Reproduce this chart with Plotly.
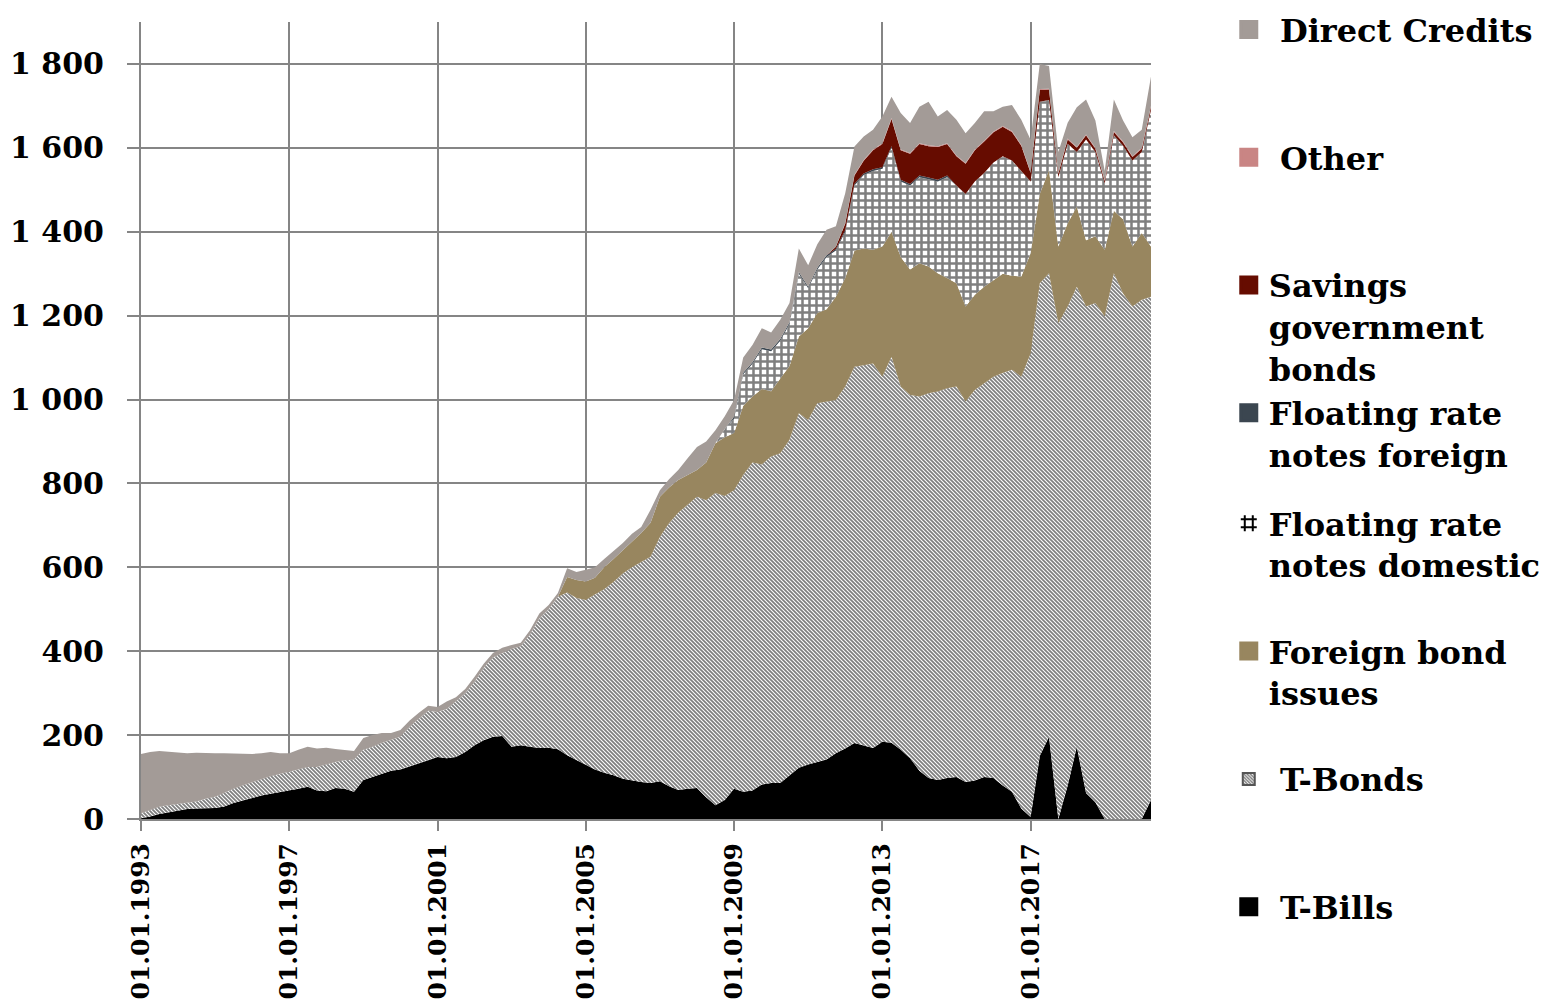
import pandas as pd
import plotly.graph_objects as go

# quarterly observation dates, 1993Q1 .. 2020Q2
dates = pd.date_range("1993-01-01", "2020-04-01", freq="QS")

# values in bn (one row per year, 4 quarters)
t_bills = [
    2, 6, 12, 16,  20, 24, 25, 26,  26, 30, 38, 44,  50, 56, 60, 64,
    67, 72, 77, 68,  66, 74, 72, 65,  93, 100, 108, 115,  118, 125, 133, 140,
    148, 145, 148, 160,  176, 188, 196, 198,  172, 176, 172, 169,  170, 166, 152, 140,
    128, 118, 110, 104,  96, 92, 88, 86,  90, 78, 69, 72,  74, 52, 33, 45,
    72, 65, 68, 82,  86, 86, 105, 122,  130, 136, 142, 157,  168, 181, 175, 169,
    184, 182, 165, 145,  115, 98, 93, 98,  100, 88, 92, 100,  98, 80, 65, 25,
    5, 150, 196, 0,  80, 172, 62, 40,  0, 0, 0, 0,  0, 45,
]
t_bonds = [
    12, 16, 17, 17,  16, 14, 17, 22,  27, 32, 34, 36,  38, 40, 42, 43,
    45, 46, 47, 56,  64, 62, 68, 76,  72, 72, 73, 73,  78, 95, 107, 118,
    107, 117, 132, 140,  151, 172, 189, 198,  233, 236, 268, 309,  330, 364, 388, 387,
    394, 417, 438, 461,  489, 508, 525, 539,  582, 627, 661, 678,  694, 708, 744, 725,
    712, 755, 782, 763,  778, 786, 799, 845,  821, 855, 853, 842,  863, 897, 907, 917,
    870, 920, 866, 866,  892, 917, 926, 929,  931, 907, 931, 939,  956, 983, 1006, 1029,
    1105, 1127, 1105, 1182,  1142, 1097, 1160, 1190,  1198, 1301, 1253, 1222,  1238, 1200,
]
foreign_bonds = [
    0, 0, 0, 0,  0, 0, 0, 0,  0, 0, 0, 0,  0, 0, 0, 0,
    0, 0, 0, 0,  0, 0, 0, 0,  0, 0, 0, 0,  0, 0, 0, 0,
    0, 0, 0, 0,  0, 0, 0, 0,  0, 0, 0, 0,  0, 0, 37, 43,
    44, 40, 52, 55,  56, 60, 69, 81,  96, 85, 78, 70,  64, 90, 119, 140,
    136, 165, 157, 180,  156, 178, 176, 183,  219, 215, 220, 246,  259, 277, 278, 271,
    311, 298, 309, 299,  318, 302, 282, 263,  246, 227, 227, 230,  231, 237, 224, 239,
    239, 213, 246, 183,  198, 191, 158, 159,  159, 149, 177, 143,  159, 120,
]
frn_domestic = [
    0, 0, 0, 0,  0, 0, 0, 0,  0, 0, 0, 0,  0, 0, 0, 0,
    0, 0, 0, 0,  0, 0, 0, 0,  0, 0, 0, 0,  0, 0, 0, 0,
    0, 0, 0, 0,  0, 0, 0, 0,  0, 0, 0, 0,  0, 0, 0, 0,
    0, 0, 0, 0,  0, 0, 0, 0,  0, 0, 0, 0,  0, 0, 0, 20,
    35, 75, 78, 95,  95, 90, 100, 150,  95, 104, 125, 110,  110, 155, 175, 188,
    185, 200, 180, 200,  205, 208, 219, 240,  233, 268, 270, 271,  280, 280, 275, 252,
    171, 220, 167, 165,  190, 130, 240, 201,  158, 180, 175, 205,  193, 325,
]
frn_foreign = [
    0, 0, 0, 0,  0, 0, 0, 0,  0, 0, 0, 0,  0, 0, 0, 0,
    0, 0, 0, 0,  0, 0, 0, 0,  0, 0, 0, 0,  0, 0, 0, 0,
    0, 0, 0, 0,  0, 0, 0, 0,  0, 0, 0, 0,  0, 0, 0, 0,
    0, 0, 0, 0,  0, 0, 0, 0,  0, 0, 0, 0,  0, 0, 0, 0,
    4, 4, 4, 4,  4, 4, 4, 4,  4, 4, 4, 4,  4, 4, 4, 4,
    4, 4, 4, 4,  4, 4, 4, 4,  0, 0, 0, 0,  0, 0, 0, 0,
    0, 0, 0, 0,  0, 0, 0, 0,  0, 0, 0, 0,  0, 0,
]
savings_bonds = [
    0, 0, 0, 0,  0, 0, 0, 0,  0, 0, 0, 0,  0, 0, 0, 0,
    0, 0, 0, 0,  0, 0, 0, 0,  0, 0, 0, 0,  0, 0, 0, 0,
    0, 0, 0, 0,  0, 0, 0, 0,  0, 0, 0, 0,  0, 0, 0, 0,
    0, 0, 0, 0,  0, 0, 0, 0,  0, 0, 0, 0,  0, 0, 0, 0,
    0, 0, 0, 0,  0, 0, 0, 0,  0, 0, 0, 5,  15, 20, 30, 45,
    55, 65, 70, 72,  75, 75, 78, 75,  70, 72, 74, 75,  72, 70, 68, 60,
    20, 28, 25, 8,  10, 10, 10, 8,  6, 8, 8, 8,  8, 8,
]
other = [
    0, 0, 0, 0,  0, 0, 0, 0,  0, 0, 0, 0,  0, 0, 0, 0,
    0, 0, 0, 0,  0, 0, 0, 0,  0, 0, 0, 0,  0, 0, 0, 0,
    0, 0, 0, 0,  0, 0, 0, 0,  0, 0, 0, 0,  0, 0, 0, 0,
    0, 0, 0, 0,  0, 0, 0, 0,  0, 0, 0, 0,  0, 0, 0, 0,
    0, 0, 0, 0,  0, 0, 0, 0,  0, 0, 0, 0,  2, 2, 2, 2,
    2, 2, 2, 2,  2, 2, 2, 2,  2, 2, 2, 2,  2, 2, 2, 2,
    2, 2, 2, 2,  2, 2, 2, 2,  2, 2, 2, 2,  2, 2,
]
direct_credits = [
    141, 138, 133, 127,  122, 119, 116, 109,  104, 95, 84, 75,  67, 61, 58, 50,
    45, 47, 48, 44,  40, 31, 25, 21,  28, 28, 24, 17,  16, 15, 13, 12,
    12, 18, 10, 10,  12, 10, 11, 12,  10, 8, 10, 12,  10, 9, 21, 19,
    28, 25, 20, 20,  17, 20, 14, 31,  16, 20, 24, 40,  55, 50, 31, 30,
    40, 36, 41, 46,  41, 46, 46, 56,  51, 56, 61, 49,  71, 67, 56, 47,
    64, 51, 87, 71,  87, 104, 71, 79,  85, 71, 63, 70,  48, 46, 62, 60,
    77, 60, 54, 50,  38, 95, 83, 65,  22, 75, 50, 45,  43, 70,
]

NB = "\u00a0"
# tile of the diagonal hatch is size*sqrt(2) = 4px wide
HATCH = dict(shape="\\", fgcolor="black", bgcolor="white", size=2.8284, solidity=0.62)
GRID = dict(shape="+", fgcolor="black", bgcolor="white", size=7, solidity=0.59)

# (name, values, fill colour, pattern, legend label, legend box)
series = [
    ("T-Bills", t_bills, "black", None,
     NB + "T-Bills", "legend2"),
    ("T-Bonds", t_bonds, "white", HATCH,
     NB + "T-Bonds<br>" + NB + "<br>" + NB, "legend2"),
    ("Foreign bond issues", foreign_bonds, "#98865F", None,
     "Foreign bond<br>issues<br>" + NB, "legend2"),
    ("Floating rate notes domestic", frn_domestic, "white", GRID,
     "Floating rate<br>notes domestic<br>" + NB, "legend2"),
    ("Floating rate notes foreign", frn_foreign, "#3B4650", None,
     "Floating rate<br>notes foreign", "legend"),
    ("Savings government bonds", savings_bonds, "#660C00", None,
     "Savings<br>government<br>bonds", "legend"),
    ("Other", other, "#C98584", None,
     NB + "Other<br>" + NB + "<br>" + NB, "legend"),
    ("Direct Credits", direct_credits, "#A39B97", None,
     NB + "Direct Credits<br>" + NB + "<br>" + NB, "legend"),
]

fig = go.Figure()

# stacked areas
for name, vals, color, pattern, label, leg in series:
    kw = {}
    if pattern is not None:
        kw["fillpattern"] = pattern
    fig.add_trace(go.Scatter(
        x=dates, y=vals, name=name,
        mode="lines", line=dict(width=0, color=color),
        fillcolor=color, stackgroup="debt",
        showlegend=False, legendgroup=name,
        **kw
    ))

# legend entries (top item first, like the original)
for name, vals, color, pattern, label, leg in series[::-1]:
    if pattern is HATCH:
        fig.add_trace(go.Bar(
            x=[None], y=[None], name=label,
            marker=dict(color="white", pattern=HATCH,
                        line=dict(width=2, color="#555555")),
            legend=leg, legendgroup=name, hoverinfo="skip",
        ))
    elif pattern is GRID:
        fig.add_trace(go.Scatter(
            x=[None], y=[None], name=label, mode="markers",
            marker=dict(symbol="hash-open", size=16, color="black",
                        line=dict(width=2, color="black")),
            legend=leg, legendgroup=name, hoverinfo="skip",
        ))
    else:
        fig.add_trace(go.Scatter(
            x=[None], y=[None], name=label, mode="markers",
            marker=dict(symbol="square", size=16, color=color,
                        line=dict(width=3, color=color)),
            legend=leg, legendgroup=name, hoverinfo="skip",
        ))

grid_col = "#858585"
leg_font = dict(family="DejaVu Serif", size=32, color="black", weight="bold")
# note: the page body adds an 8px offset, margins are set 8px smaller
fig.update_layout(
    width=1563, height=1006,
    margin=dict(l=133, r=420, t=14, b=195, autoexpand=False),
    paper_bgcolor="white", plot_bgcolor="white",
    font=dict(family="DejaVu Serif", size=30, color="black", weight="bold"),
    separators=". ",
    barmode="overlay",
    legend=dict(
        x=1.077, xanchor="left", y=1.025, yanchor="top",
        valign="top", traceorder="normal", font=leg_font,
        bgcolor="rgba(0,0,0,0)",
    ),
    legend2=dict(
        x=1.077, xanchor="left", y=0.4053, yanchor="top",
        valign="top", traceorder="normal", font=leg_font,
        bgcolor="rgba(0,0,0,0)",
    ),
    xaxis=dict(
        type="date", range=["1993-01-01", "2020-04-01"],
        tick0="1993-01-01", dtick="M48", tickformat="%d.%m.%Y",
        tickangle=-90, tickfont=dict(size=25),
        showgrid=True, gridcolor=grid_col, gridwidth=2,
        ticks="outside", ticklen=10, tickwidth=2, tickcolor=grid_col,
        showline=True, linecolor=grid_col, linewidth=2,
        zeroline=False, ticklabelstandoff=2,
    ),
    yaxis=dict(
        range=[0, 1900], tick0=0, dtick=200, separatethousands=True,
        showgrid=True, gridcolor=grid_col, gridwidth=2,
        ticks="outside", ticklen=12, tickwidth=2, tickcolor=grid_col,
        showline=True, linecolor=grid_col, linewidth=2,
        zeroline=False, ticklabelstandoff=17,
    ),
)

fig.write_html("out.html")
